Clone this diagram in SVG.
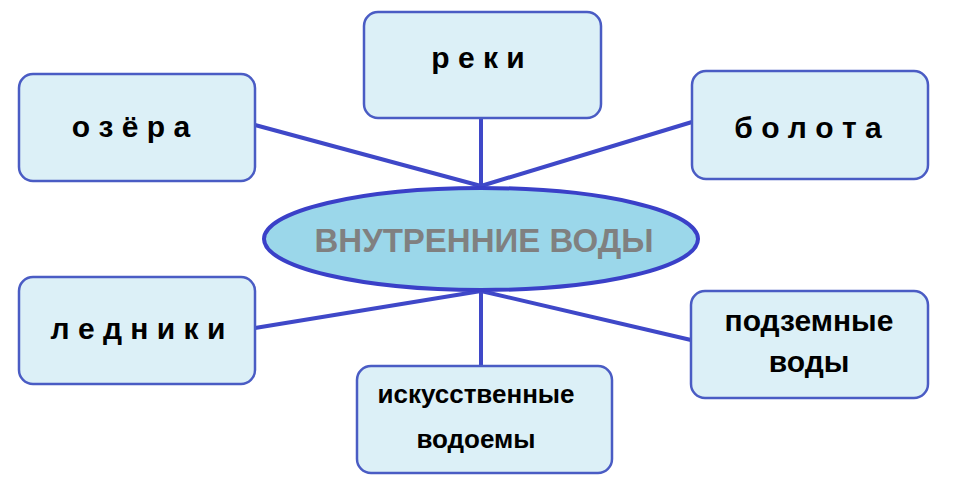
<svg xmlns="http://www.w3.org/2000/svg" width="959" height="501" viewBox="0 0 959 501">
<style>
.b{fill:#dcf0f7;stroke:#4a5cc4;stroke-width:2.5}
.t{font-family:"Liberation Sans",Arial,sans-serif;font-weight:bold;font-size:30px;fill:#000;text-anchor:middle}
.s{font-size:26px}
.c line{stroke:#3f48c8;stroke-width:4}
</style>
<rect width="959" height="501" fill="#fff"/>
<g class="c">
<line x1="255" y1="125" x2="481" y2="186"/>
<line x1="481" y1="118" x2="481" y2="186"/>
<line x1="692" y1="122" x2="481" y2="186"/>
<line x1="255" y1="328" x2="481" y2="291"/>
<line x1="691" y1="340" x2="481" y2="291"/>
<line x1="481" y1="366" x2="481" y2="291"/>
</g>
<g id="center"><ellipse cx="481" cy="239" rx="217" ry="51" fill="#9bd7ea" stroke="#3a40c8" stroke-width="4"/>
<text x="484" y="252" font-family="Liberation Sans,Arial,sans-serif" font-weight="bold" font-size="33" fill="#808080" text-anchor="middle">ВНУТРЕННИЕ ВОДЫ</text></g>
<g id="ozera"><rect class="b" x="19" y="74" width="236" height="107" rx="14"/><text class="t" x="131" y="137">о з ё р а</text></g>
<g id="reki"><rect class="b" x="364" y="12" width="237" height="106" rx="14"/><text class="t" x="478" y="68">р е к и</text></g>
<g id="bolota"><rect class="b" x="692" y="71" width="236" height="108" rx="14"/><text class="t" x="808" y="138">б о л о т а</text></g>
<g id="ledniki"><rect class="b" x="19" y="277" width="236" height="107" rx="14"/><text class="t" x="138" y="339">л е д н и к и</text></g>
<g id="podzemnye"><rect class="b" x="691" y="291" width="237" height="107" rx="14"/><text class="t" x="809" y="331">подземные</text><text class="t" x="809" y="372">воды</text></g>
<g id="iskusstvennye"><rect class="b" x="357" y="366" width="255" height="107" rx="14"/><text class="t s" x="476" y="403">искусственные</text><text class="t s" x="476" y="448">водоемы</text></g>
</svg>
